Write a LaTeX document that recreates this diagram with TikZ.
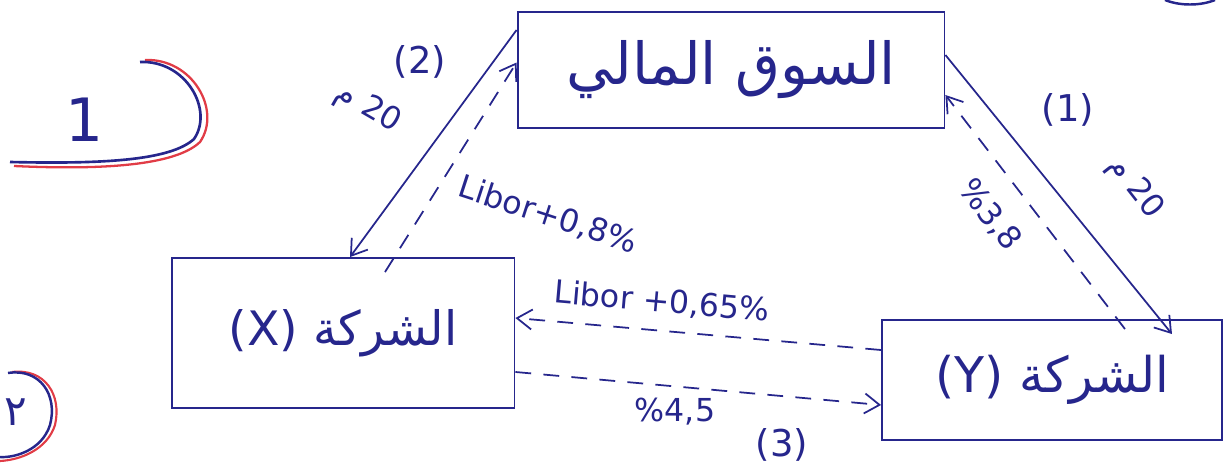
\documentclass[tikz,border=0pt]{standalone}
\usepackage{fontspec}
\setmainfont{DejaVu Sans}
\newfontfamily\arabicfont[Script=Arabic]{DejaVu Sans}
\TeXXeTstate=1
\usepackage{tikz}
\usetikzlibrary{arrows.meta,positioning}
\definecolor{ink}{RGB}{38,38,140}
\definecolor{redink}{RGB}{225,60,70}

\begin{document}
\begin{tikzpicture}[x=0.02cm,y=-0.02cm,every node/.style={text=ink,align=center},box/.style={draw=ink,line width=1.1pt,inner sep=0pt},pay/.style={-{Straight Barb[length=3mm,width=4mm]},line width=1pt,ink},rate/.style={pay,dash pattern=on 9pt off 7pt},lbl/.style={font=\fontsize{18}{21}\selectfont,inner sep=1pt}]
\useasboundingbox (0,0) rectangle (1226,463);
% the three parties
\node[box,minimum width=8.54cm,minimum height=2.32cm,font=\fontsize{33}{38}\selectfont] (market) at (731,70) {\arabicfont\beginR السوق المالي\endR};
\node[box,minimum width=6.86cm,minimum height=3cm,font=\fontsize{27}{32}\selectfont] (X) at (343,333) {(X) {\arabicfont\beginR الشركة\endR}};
\node[box,minimum width=6.8cm,minimum height=2.4cm,font=\fontsize{28}{32}\selectfont] (Y) at (1052,380) {(Y) {\arabicfont\beginR الشركة\endR}};
% loans and interest flows
\draw[pay] ([yshift=0.8cm]market.west) -- ([xshift=0.14cm]X.north);
\draw[rate] ([xshift=0.84cm,yshift=-0.3cm]X.north) -- ([yshift=0.15cm]market.west);
\draw[pay] ([yshift=0.3cm]market.east) -- ([xshift=2.4cm,yshift=-0.3cm]Y.north);
\draw[rate] ([xshift=1.46cm,yshift=-0.2cm]Y.north) -- ([yshift=-0.5cm]market.east);
\draw[rate] ([yshift=0.6cm]Y.west) -- ([yshift=0.3cm]X.east);
\draw[rate] ([yshift=-0.78cm]X.east) -- ([yshift=-0.5cm]Y.west);
% labels
\node[lbl,font=\fontsize{21}{24}\selectfont] (numTwo) at (420,62) {(2)};
\node[lbl,rotate=-30] (amtX) at (368,108) {{\arabicfont م} 20};
\node[lbl,rotate=-18] (rateX) at (548,215) {Libor+0,8\%};
\node[lbl,rotate=-5] (rateYX) at (662,302) {Libor +0,65\%};
\node[lbl,font=\fontsize{21}{24}\selectfont] (numOne) at (1068,110) {(1)};
\node[lbl,rotate=-52] (amtY) at (1135,188) {{\arabicfont م} 20};
\node[lbl,rotate=-52] (rateY) at (990,215) {\%3,8};
\node[lbl] (rateXY) at (675,412) {\%4,5};
\node[lbl,font=\fontsize{21}{24}\selectfont] (numThree) at (782,445) {(3)};
% corner marks
\node[font=\fontsize{34}{38}\selectfont] (exOne) at (85,120) {1};
\draw[redink,line width=1.3pt] (14,166) .. controls (100,170) and (175,166) .. (200,142) .. controls (222,110) and (192,58) .. (145,60);
\draw[ink,line width=1.5pt] (10,162) .. controls (100,164) and (170,161) .. (194,139) .. controls (214,110) and (186,60) .. (140,62);
\node[font=\fontsize{24}{28}\selectfont] (exTwo) at (16,412) {\arabicfont ٢};
\draw[redink,line width=1.2pt] (12,372) .. controls (45,368) and (62,395) .. (55,425) .. controls (47,450) and (20,460) .. (0,461);
\draw[ink,line width=1.4pt] (8,373) .. controls (40,368) and (58,395) .. (50,425) .. controls (42,450) and (15,458) .. (0,457);
\draw[ink,line width=1.4pt] (1165,0) .. controls (1180,6) and (1200,6) .. (1215,0);
\end{tikzpicture}
\end{document}
